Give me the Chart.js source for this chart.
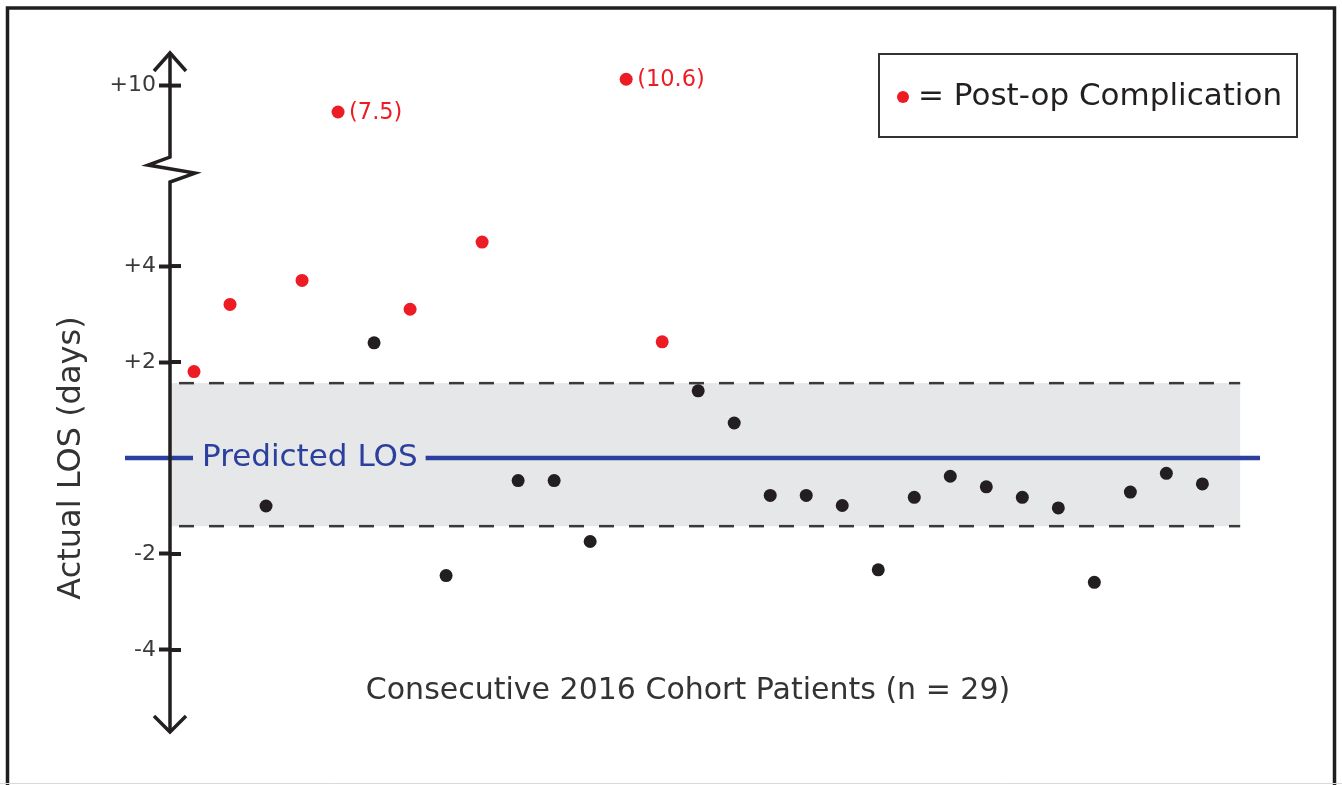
<!DOCTYPE html>
<html>
<head>
<meta charset="utf-8">
<title>Actual vs predicted LOS</title>
<script src="https://cdn.jsdelivr.net/npm/chart.js@4.4.1/dist/chart.umd.min.js"></script>
<style>
  html, body { margin: 0; padding: 0; background: #fff; }
  #wrap { position: relative; width: 1342px; height: 785px; }
</style>
</head>
<body>
<div id="wrap"><canvas id="chart"></canvas></div>
<script>
// consecutive 2016 cohort, actual LOS minus predicted LOS (days)
const patients = [1, 2, 3, 4, 5, 6, 7, 8, 9, 10, 11, 12, 13, 14, 15, 16, 17, 18, 19, 20, 21, 22, 23, 24, 25, 26, 27, 28, 29];
const losDiff = [1.8, 3.2, -1.0, 3.7, 7.5, 2.4, 3.1, -2.45, 4.5, -0.47, -0.47, -1.74, 10.6, 2.42, 1.4, 0.73,
  -0.78, -0.78, -0.99, -2.33, -0.82, -0.38, -0.6, -0.82, -1.04, -2.59, -0.71, -0.32, -0.54];
const complication = [true, true, false, true, true, false, true, false, true, false, false, false, true, true, false, false,
  false, false, false, false, false, false, false, false, false, false, false, false, false];
const yTickValues = [10, 4, 2, -2, -4];
const yTickLabels = ['+10', '+4', '+2', '-2', '-4'];
const bandUpper = 1.56;
const bandLower = -1.42;
const predictedLos = 0;

const FONT = '"DejaVu Sans", sans-serif';
const RED = '#ed1c24';
const DOT = '#231f20';
const BLUE = '#2b3f9f';
const INK = '#333333';

// broken axis: above the break the scale is compressed
const BREAK = 6;
function toAxis(v) {
  return v <= BREAK ? v : 7.76 + (v - 10) * 0.22;
}

const withComp = [], withoutComp = [];
patients.forEach((p, i) => {
  const pt = { x: p, y: toAxis(losDiff[i]), raw: losDiff[i] };
  (complication[i] ? withComp : withoutComp).push(pt);
});

const decorations = {
  id: 'decorations',
  beforeDatasetsDraw(chart) {
    const { ctx, chartArea: ca, scales: { x, y } } = chart;
    const ax = ca.left;
    ctx.save();

    // frame
    ctx.strokeStyle = '#1e1e1e';
    ctx.lineWidth = 3.5;
    ctx.strokeRect(7.5, 8, 1327, 800);
    ctx.strokeStyle = '#d9d9d9';
    ctx.lineWidth = 1;
    ctx.beginPath(); ctx.moveTo(0, 783.5); ctx.lineTo(1342, 783.5); ctx.stroke();

    // expected range band
    const bandRight = x.getPixelForValue(patients[patients.length - 1] + 1.05);
    const yU = y.getPixelForValue(bandUpper), yL = y.getPixelForValue(bandLower);
    ctx.fillStyle = '#e6e7e8';
    ctx.fillRect(ax, yU, bandRight - ax, yL - yU);
    ctx.strokeStyle = '#3a3a3a';
    ctx.lineWidth = 2.5;
    ctx.setLineDash([15, 15]);
    [yU, yL].forEach(py => {
      ctx.beginPath(); ctx.moveTo(ax + 9, py); ctx.lineTo(bandRight, py); ctx.stroke();
    });
    ctx.setLineDash([]);

    // predicted LOS line with inline label
    const y0 = y.getPixelForValue(predictedLos);
    ctx.font = '31px ' + FONT;
    const label = 'Predicted LOS';
    const tx = ax + 32;
    const tw = ctx.measureText(label).width;
    ctx.strokeStyle = BLUE;
    ctx.lineWidth = 4.5;
    ctx.beginPath();
    ctx.moveTo(ax - 45, y0); ctx.lineTo(tx - 9, y0);
    ctx.moveTo(tx + tw + 8, y0); ctx.lineTo(ca.right, y0);
    ctx.stroke();
    ctx.fillStyle = BLUE;
    ctx.textAlign = 'left';
    ctx.textBaseline = 'middle';
    ctx.fillText(label, tx, y0);

    // y axis with break and arrows
    const yb = y.getPixelForValue(BREAK);
    ctx.strokeStyle = DOT;
    ctx.lineWidth = 3.5;
    ctx.lineJoin = 'miter';
    ctx.beginPath();
    ctx.moveTo(ax, ca.top + 1);
    ctx.lineTo(ax, yb - 13);
    ctx.lineTo(ax - 22, yb - 5);
    ctx.lineTo(ax + 25, yb + 3);
    ctx.lineTo(ax, yb + 12);
    ctx.lineTo(ax, ca.bottom - 1);
    ctx.stroke();
    ctx.beginPath();
    ctx.moveTo(ax - 16, ca.top + 19); ctx.lineTo(ax, ca.top + 1); ctx.lineTo(ax + 16, ca.top + 19);
    ctx.moveTo(ax - 16, ca.bottom - 17); ctx.lineTo(ax, ca.bottom - 1); ctx.lineTo(ax + 16, ca.bottom - 17);
    ctx.stroke();
    // right half of the tick marks
    ctx.lineWidth = 4;
    yTickValues.forEach(v => {
      const py = y.getPixelForValue(toAxis(v));
      ctx.beginPath(); ctx.moveTo(ax, py); ctx.lineTo(ax + 11, py); ctx.stroke();
    });

    // axis titles
    ctx.fillStyle = INK;
    ctx.font = '30px ' + FONT;
    ctx.textAlign = 'center';
    ctx.textBaseline = 'middle';
    ctx.fillText('Consecutive 2016 Cohort Patients (n = ' + patients.length + ')', 688, 691);
    ctx.save();
    ctx.translate(72, y0);
    ctx.rotate(-Math.PI / 2);
    ctx.font = '32px ' + FONT;
    ctx.fillText('Actual LOS (days)', 0, 0);
    ctx.restore();

    // legend box
    ctx.strokeStyle = '#333';
    ctx.lineWidth = 2;
    ctx.strokeRect(879, 54, 418, 83);
    ctx.fillStyle = RED;
    ctx.beginPath(); ctx.arc(903, 97, 6, 0, Math.PI * 2); ctx.fill();
    ctx.fillStyle = '#231f20';
    ctx.font = '31px ' + FONT;
    ctx.textAlign = 'left';
    ctx.fillText('= ' + chart.data.datasets[0].label, 918, 97);

    ctx.restore();
  },
  afterDatasetsDraw(chart) {
    // value labels for the off-scale points
    const { ctx, scales: { x, y } } = chart;
    ctx.save();
    ctx.fillStyle = RED;
    ctx.font = '22.5px ' + FONT;
    ctx.textAlign = 'left';
    ctx.textBaseline = 'middle';
    patients.forEach((p, i) => {
      if (losDiff[i] > BREAK) {
        ctx.fillText('(' + losDiff[i].toFixed(1) + ')', x.getPixelForValue(p) + 11, y.getPixelForValue(toAxis(losDiff[i])) + 1);
      }
    });
    ctx.restore();
  }
};

new Chart(document.getElementById('chart'), {
  type: 'scatter',
  data: {
    datasets: [
      { label: 'Post-op Complication', data: withComp, backgroundColor: RED, pointRadius: 6.5, borderWidth: 0 },
      { label: 'No complication', data: withoutComp, backgroundColor: DOT, pointRadius: 6.5, borderWidth: 0 }
    ]
  },
  options: {
    responsive: true,
    maintainAspectRatio: false,
    animation: false,
    layout: { padding: { top: 52, bottom: 52, left: 0, right: 82 } },
    plugins: { legend: { display: false }, tooltip: { enabled: false } },
    scales: {
      x: { type: 'linear', min: 1 / 3, max: 30.6, display: false },
      y: {
        type: 'linear',
        min: -5.73,
        max: 8.46,
        afterBuildTicks: (scale) => { scale.ticks = yTickValues.map(v => ({ value: toAxis(v) })); },
        afterFit: (scale) => { scale.width = 170; },
        border: { display: false },
        grid: { drawOnChartArea: false, drawTicks: true, tickLength: 11, tickWidth: 4, tickColor: DOT },
        ticks: {
          padding: 3,
          color: '#3a3a3a',
          font: { family: FONT, size: 22 },
          callback: (val, idx) => yTickLabels[idx]
        }
      }
    }
  },
  plugins: [decorations]
});
</script>
</body>
</html>
